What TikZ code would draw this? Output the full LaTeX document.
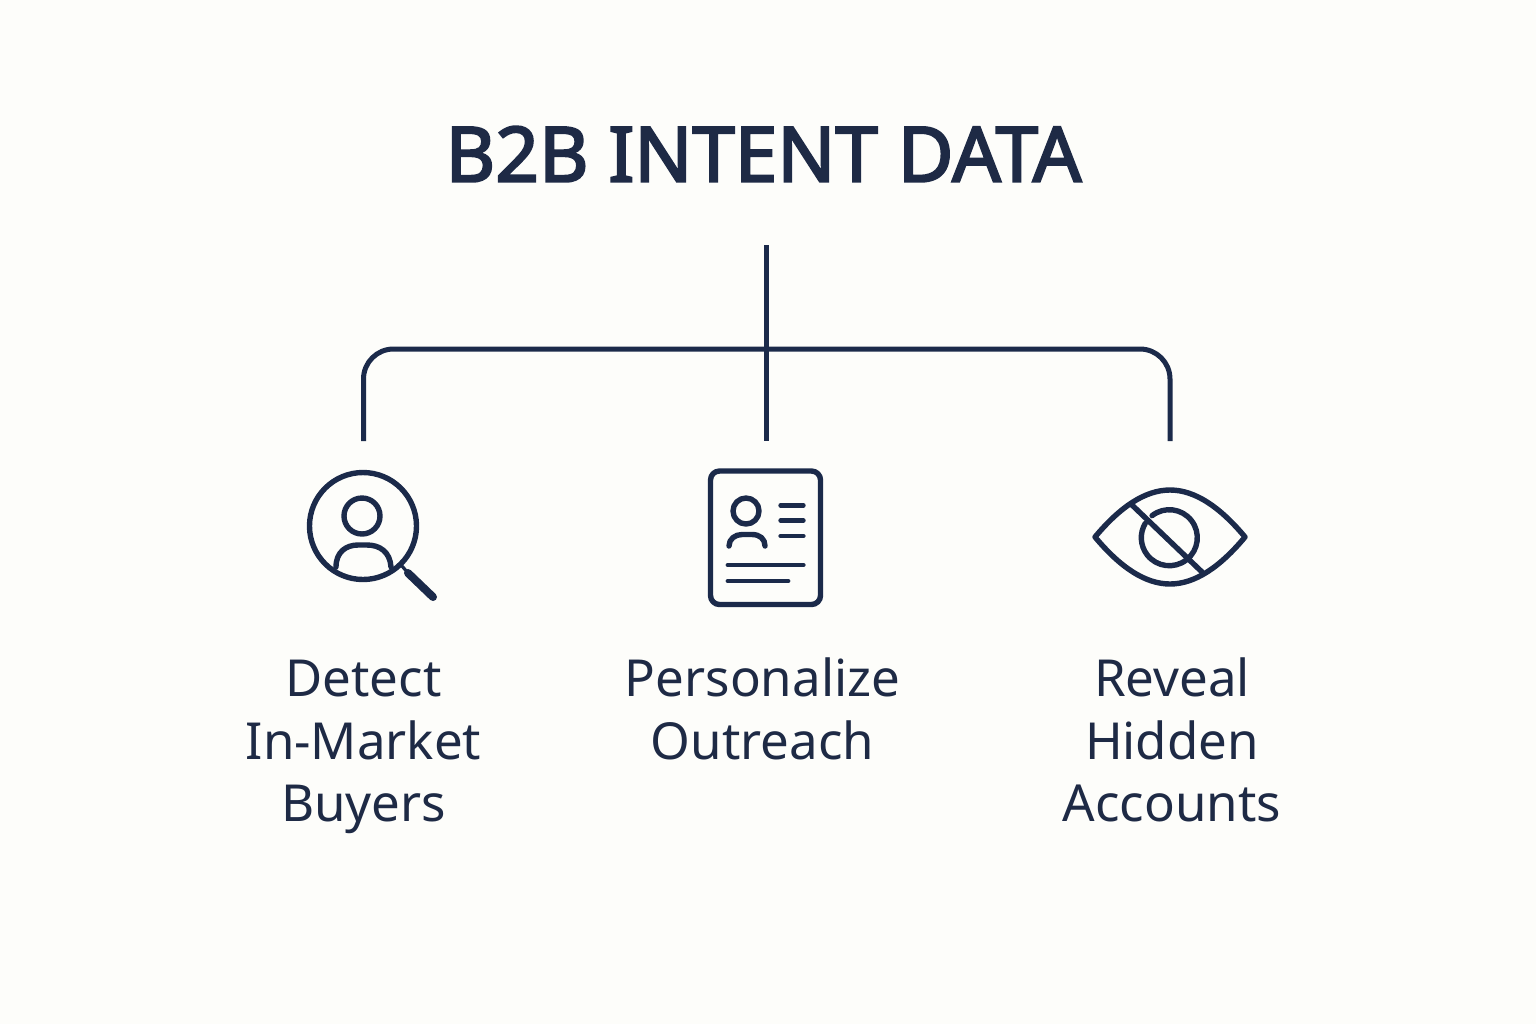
\documentclass[tikz,border=0pt]{standalone}
\usepackage{fontspec}
\setmainfont{Noto Sans}
\newfontfamily\titlefont[FakeBold=2.8]{Noto Sans}
\definecolor{ink}{HTML}{1B2A4A}
\definecolor{txt}{HTML}{1E2A45}
\definecolor{paper}{HTML}{FDFDFA}
\newcommand{\firstline}{\rule{0pt}{26pt}}
\tikzset{
  conn/.style={draw=ink,line width=2.5pt},
  icon/.style={draw=ink,line width=2.7pt,line cap=round,line join=round},
  fineline/.style={draw=ink,line width=2.4pt,line cap=round},
  title/.style={text=txt,font=\fontsize{38.2}{44}\titlefont,anchor=center,inner sep=0pt},
  lab/.style={text=txt,font=\fontsize{25.5}{31.25}\selectfont,align=center,anchor=north,inner sep=0pt}
}
\begin{document}
\begin{tikzpicture}[x=0.5pt,y=-0.5pt]
\fill[paper] (0,0) rectangle (1536,1024);
\useasboundingbox (0,0) rectangle (1536,1024);
\node[title] (head) at (763.5,154) {B2B INTENT DATA};
% connectors
\coordinate (top) at (766,245);
\coordinate (midb) at (766,441);
\coordinate (leftb) at (363.5,441);
\coordinate (rightb) at (1170,441);
\coordinate (lc) at (363.5,349);
\coordinate (rc) at (1170,349);
\draw[conn] (top) -- (midb);
\draw[conn,rounded corners=15pt] (leftb) -- (lc) -- (rc) -- (rightb);
% icon 1: search person
\draw[icon] (363,526) circle[radius=53.5];
\draw[icon] (362,516) circle[radius=18];
\draw[icon] (336,567) .. controls (336,552) and (346,545) .. (358,545) -- (367,545) .. controls (380,545) and (390,552) .. (391,567);
\draw[fineline,line width=1.6pt] (402,566) -- (408,573);
\draw[icon,line width=4pt] (408,573) -- (433,597);
% icon 2: card
\draw[icon,rounded corners=4.5pt] (710.5,471) rectangle (820.5,604.5);
\draw[icon] (746,511) circle[radius=13];
\draw[icon] (729,546) .. controls (729,539) and (735,534.5) .. (742,534.5) -- (752,534.5) .. controls (760,534.5) and (765,539) .. (765,546);
\foreach \yy in {505.3,520.5,536}{\draw[fineline] (780.7,\yy) -- (803.3,\yy);}
\draw[fineline] (728,565) -- (803.3,565);
\draw[fineline] (728,581) -- (788,581);
% icon 3: eye
\draw[icon] (1095,537) .. controls (1120,507) and (1145,490) .. (1170,490) .. controls (1195,490) and (1220,507) .. (1245,537) .. controls (1220,567) and (1195,584) .. (1170,584) .. controls (1145,584) and (1120,567) .. (1095,537) -- cycle;
\draw[icon] (1169.3,537.7) ++(232:28) arc[start angle=232,end angle=571,radius=28];
\draw[icon] (1132,505) -- (1202,572);
% labels
\node[lab] (l1) at (363.5,644.5) {\firstline Detect\\In-Market\\Buyers};
\node[lab] (l2) at (762.5,644.5) {\firstline Personalize\\Outreach};
\node[lab] (l3) at (1172,644.5) {\firstline Reveal\\Hidden\\Accounts};
\end{tikzpicture}
\end{document}
